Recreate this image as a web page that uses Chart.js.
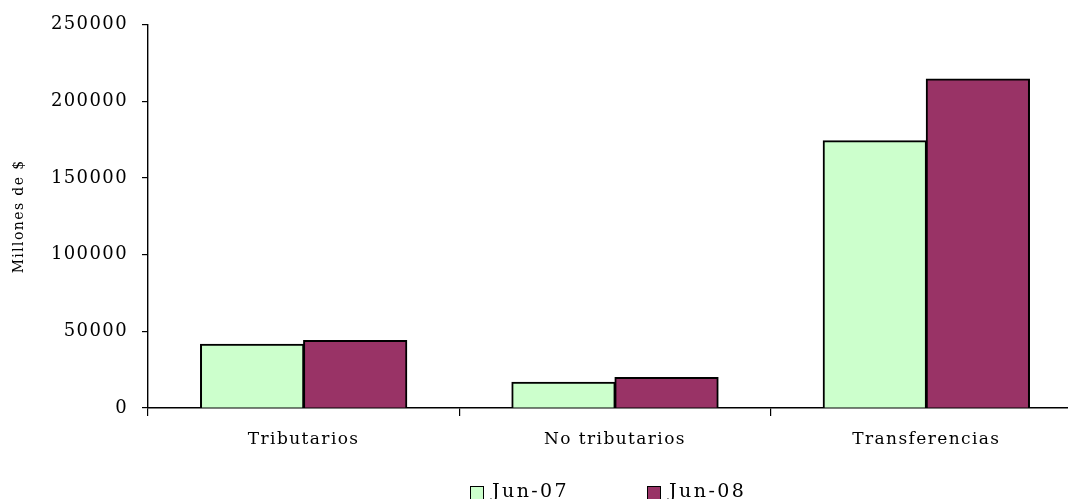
<!DOCTYPE html>
<html>
<head>
<meta charset="utf-8">
<script src="https://cdn.jsdelivr.net/npm/chart.js@4"></script>
<style>
  html, body { margin: 0; padding: 0; background: #fff; overflow: hidden; }
  #wrap { position: relative; width: 1068px; height: 499px; overflow: hidden; }
  #chart { position: absolute; left: 0; top: 0; }
  #legend {
    position: absolute; left: 470px; top: 479px;
    display: flex; align-items: center;
    font-family: "DejaVu Serif", serif; font-size: 19px; letter-spacing: 2.4px; color: #000;
  }
  #legend .item { display: flex; align-items: center; margin-right: 78px; }
  #legend .box { width: 12px; height: 12px; border: 1px solid #000; margin-right: 8px; margin-top: 6px; }
</style>
</head>
<body>
<div id="wrap">
  <canvas id="chart" width="1090" height="499"></canvas>
  <div id="legend"></div>
</div>
<script>
  const CATEGORIES = ["Tributarios", "No tributarios", "Transferencias"];
  const SERIES_NAMES = ["Jun-07", "Jun-08"];
  const JUN_07 = [41500, 16700, 174300];
  const JUN_08 = [43900, 19900, 214600];
  const Y_TICKS = [0, 50000, 100000, 150000, 200000, 250000];

  const COLORS = ["#ccffcc", "#993366"];
  const FONT = "DejaVu Serif";

  // spread the letters a bit, the original font is wider than DejaVu
  const spacing = {
    id: "spacing",
    beforeLayout(chart) {
      chart.ctx.letterSpacing = "1.4px";
    },
    beforeDraw(chart) {
      chart.ctx.letterSpacing = "1.4px";
    },
  };

  const canvas = document.getElementById("chart");
  canvas.style.width = "1090px";
  canvas.style.height = "499px";

  function barSet(i, data) {
    return {
      label: SERIES_NAMES[i],
      data: data,
      backgroundColor: COLORS[i],
      borderColor: "#000",
      borderWidth: 2,
      inflateAmount: 0.6,
      categoryPercentage: 0.662,
      barPercentage: 1,
    };
  }

  new Chart(canvas, {
    type: "bar",
    data: {
      labels: CATEGORIES,
      datasets: [barSet(0, JUN_07), barSet(1, JUN_08)],
    },
    options: {
      responsive: false,
      animation: false,
      layout: { padding: { top: 24, right: 8, left: 0, bottom: 0 } },
      plugins: { legend: { display: false }, tooltip: { enabled: false } },
      scales: {
        x: {
          offset: true,
          grid: {
            drawOnChartArea: false,
            tickLength: 8,
            color: "#000",
            lineWidth: 1.2,
          },
          border: { color: "#000", width: 1.4 },
          ticks: {
            color: "#000",
            padding: 13,
            maxRotation: 0,
            autoSkip: false,
            font: { family: FONT, size: 17 },
          },
          afterFit: (scale) => {
            scale.height = 91;
          },
        },
        y: {
          min: 0,
          max: 250000,
          afterBuildTicks: (scale) => {
            scale.ticks = Y_TICKS.map((v) => ({ value: v }));
          },
          grid: {
            drawOnChartArea: false,
            tickLength: 6,
            color: "#000",
            lineWidth: 1.2,
          },
          border: { color: "#000", width: 1.4 },
          ticks: {
            color: "#000",
            padding: 14,
            font: { family: FONT, size: 18 },
            callback: (v) => String(v),
          },
          title: {
            display: true,
            text: "Millones de $",
            color: "#000",
            font: { family: FONT, size: 14 },
            padding: { top: 11, bottom: 0 },
          },
          afterFit: (scale) => {
            scale.width = 148;
          },
        },
      },
    },
    plugins: [spacing],
  });

  const legend = document.getElementById("legend");
  SERIES_NAMES.forEach((name, i) => {
    const item = document.createElement("div");
    item.className = "item";
    const box = document.createElement("span");
    box.className = "box";
    box.style.background = COLORS[i];
    const txt = document.createElement("span");
    txt.textContent = name;
    item.appendChild(box);
    item.appendChild(txt);
    legend.appendChild(item);
  });
</script>
</body>
</html>
